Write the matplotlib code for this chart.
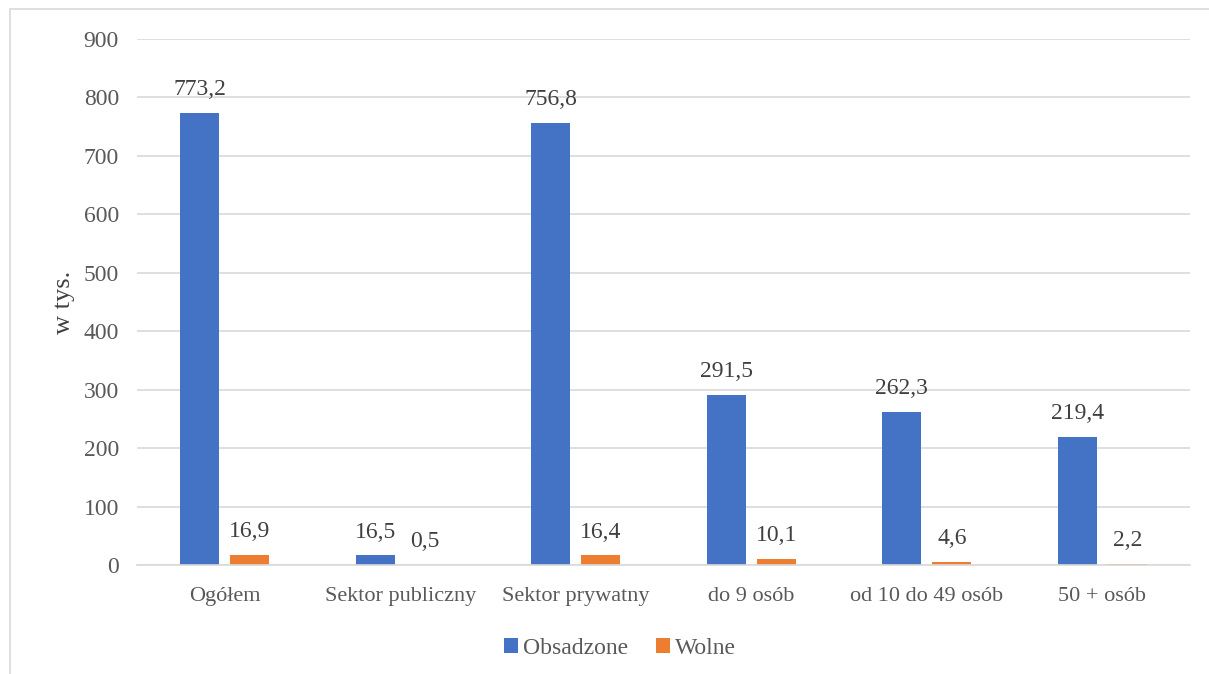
import matplotlib.pyplot as plt
import numpy as np
from matplotlib.patches import Rectangle

categories = ['Ogółem', 'Sektor publiczny', 'Sektor prywatny', 'do 9 osób',
              'od 10 do 49 osób', '50 + osób']
obsadzone = [773.2, 16.5, 756.8, 291.5, 262.3, 219.4]
wolne = [16.9, 0.5, 16.4, 10.1, 4.6, 2.2]
obs_labels = ['773,2', '16,5', '756,8', '291,5', '262,3', '219,4']
wol_labels = ['16,9', '0,5', '16,4', '10,1', '4,6', '2,2']
yticks = [0, 100, 200, 300, 400, 500, 600, 700, 800, 900]

plt.rcParams['font.family'] = ['Liberation Serif', 'DejaVu Serif']

fig = plt.figure(figsize=(12.09, 6.74), dpi=100)
ax = fig.add_axes([0.1133, 0.1617, 0.871, 0.7804])

x = np.arange(len(categories))
w = 0.222
off = 0.1425
b1 = ax.bar(x - off, obsadzone, w, color='#4472C4', label='Obsadzone')
b2 = ax.bar(x + off, wolne, w, color='#ED7D31', label='Wolne')

for rect, lab in zip(b1, obs_labels):
    ax.text(rect.get_x() + rect.get_width() / 2, rect.get_height() + 22, lab,
            ha='center', va='bottom', fontsize=17, color='#404040')
for rect, lab in zip(b2, wol_labels):
    ax.text(rect.get_x() + rect.get_width() / 2, rect.get_height() + 22, lab,
            ha='center', va='bottom', fontsize=17, color='#404040')

ax.set_xlim(-0.5, len(categories) - 0.5)
ax.set_ylim(0, 900)
ax.set_yticks(yticks)
ax.set_xticks(x)
ax.set_xticklabels(categories)
ax.tick_params(axis='both', length=0, labelsize=17, colors='#595959')
ax.tick_params(axis='y', pad=13)
ax.tick_params(axis='x', pad=16, labelsize=16)
ax.grid(axis='y', color='#d9d9d9', linewidth=1.2)
ax.set_axisbelow(True)
for s in ['top', 'right', 'left']:
    ax.spines[s].set_visible(False)
ax.spines['bottom'].set_color('#d9d9d9')
ax.spines['bottom'].set_linewidth(1.2)

ax.set_ylabel('w tys.', fontsize=19, color='#404040', labelpad=6)

ax.legend(loc='upper center', bbox_to_anchor=(0.4587, -0.098), ncol=2, frameon=False,
          fontsize=17, labelcolor='#595959', handlelength=0.6, handleheight=0.6,
          handletextpad=0.2, columnspacing=1.2)

fig.patches.append(Rectangle((10 / 1209, -0.02), 1.0, 1 - 9 / 674 + 0.02,
                             transform=fig.transFigure, fill=False,
                             edgecolor='#d9d9d9', linewidth=1.2))

fig.savefig('out.png', dpi=100)
